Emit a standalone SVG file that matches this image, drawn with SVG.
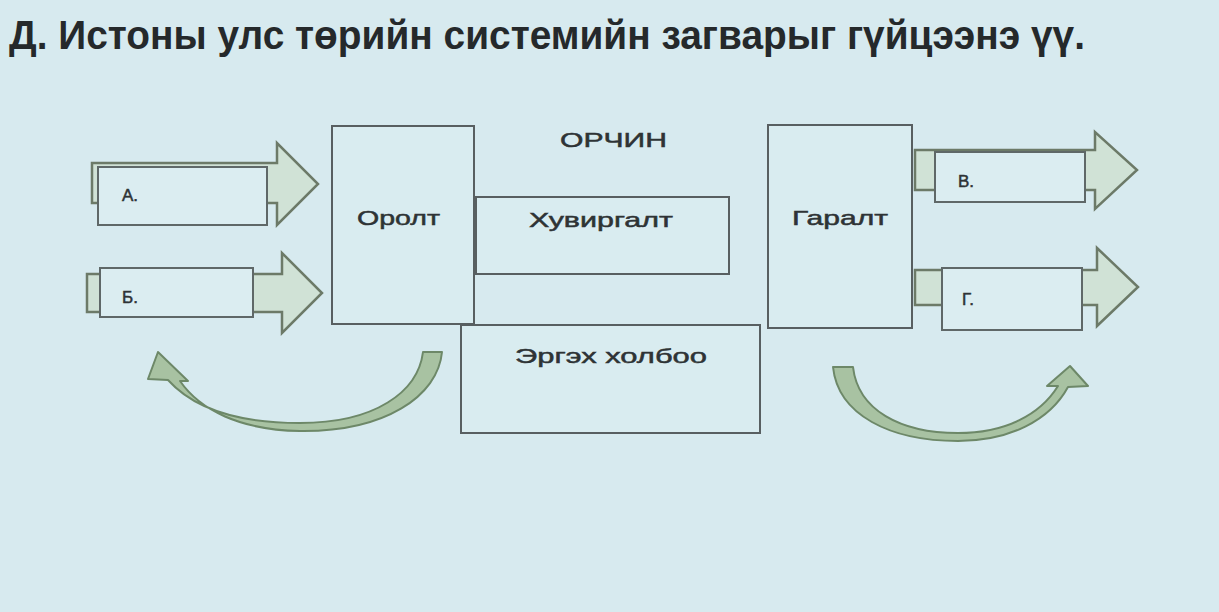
<svg xmlns="http://www.w3.org/2000/svg" width="1219" height="612" viewBox="0 0 1219 612">
<defs>
<style>
.bg{fill:#d7eaef}
.box{fill:#d9ecf0;stroke:#585f61;stroke-width:2}
.arr{fill:#d0e2d6;stroke:#6c7a68;stroke-width:2.5;stroke-linejoin:miter}
.lbl{fill:#dbedf1;stroke:#5f6868;stroke-width:2}
.t{font-family:"Liberation Sans","DejaVu Sans",sans-serif;fill:#2e3335;stroke:#2e3335;stroke-width:0.5}
.n{font-size:21px}
.s{font-size:17px}
.curve{fill:#a8c2a2;stroke:#6d8868;stroke-width:2;stroke-linejoin:round}
</style>
</defs>
<rect class="bg" x="0" y="0" width="1219" height="612"/>
<g id="title">
<text x="9" y="49" font-family="Liberation Sans, DejaVu Sans, sans-serif" font-size="41" font-weight="bold" fill="#25292b" textLength="1076" lengthAdjust="spacingAndGlyphs">Д. Истоны улс төрийн системийн загварыг гүйцээнэ үү.</text>
</g>
<g id="orchin">
<text class="t n" x="560" y="147" textLength="107" lengthAdjust="spacingAndGlyphs">ОРЧИН</text>
</g>
<g id="orolt">
<rect class="box" x="332" y="126" width="142" height="198"/>
<text class="t n" x="357" y="225" textLength="83" lengthAdjust="spacingAndGlyphs">Оролт</text>
</g>
<g id="huvirgalt">
<rect class="box" x="476" y="197" width="253" height="77"/>
<text class="t n" x="529" y="227" textLength="144" lengthAdjust="spacingAndGlyphs">Хувиргалт</text>
</g>
<g id="ergeh">
<rect class="box" x="461" y="325" width="299" height="108"/>
<text class="t n" x="515" y="363" textLength="192" lengthAdjust="spacingAndGlyphs">Эргэх холбоо</text>
</g>
<g id="garalt">
<rect class="box" x="768" y="125" width="144" height="203"/>
<text class="t n" x="792" y="225" textLength="96" lengthAdjust="spacingAndGlyphs">Гаралт</text>
</g>
<g id="arrow-a">
<polygon class="arr" points="92,163 277,163 277,143 318,184 277,225 277,203 92,203"/>
<rect class="lbl" x="98" y="167" width="169" height="58"/>
<text class="t s" x="122" y="201">А.</text>
</g>
<g id="arrow-b">
<polygon class="arr" points="87,274 282,274 282,253 322,293 282,333 282,312 87,312"/>
<rect class="lbl" x="100" y="268" width="153" height="49"/>
<text class="t s" x="122" y="303">Б.</text>
</g>
<g id="arrow-v">
<polygon class="arr" points="915,150 1095,150 1095,132 1137,170 1095,209 1095,190 915,190"/>
<rect class="lbl" x="935" y="152" width="150" height="50"/>
<text class="t s" x="958" y="187">В.</text>
</g>
<g id="arrow-g">
<polygon class="arr" points="915,270 1097,270 1097,248 1138,287 1097,326 1097,305 915,305"/>
<rect class="lbl" x="942" y="268" width="140" height="62"/>
<text class="t s" x="962" y="305">Г.</text>
</g>
<g id="connectors">
<path class="curve" d="M 423 352 L 442 352 C 438 396, 385 432, 300 431 C 240 430, 200 410, 180 381 L 188 381 L 158 352 L 148 379 L 168 380 C 195 410, 240 423, 300 423 C 375 423, 418 392, 423 352 Z"/>
<path class="curve" d="M 833 367 L 853 367 C 858 410, 900 433, 958 433 C 1005 433, 1040 415, 1058 386 L 1047 386 L 1070 366 L 1088 386 L 1068 387 C 1050 420, 1010 441, 958 441 C 890 441, 838 415, 833 367 Z"/>
</g>
</svg>
